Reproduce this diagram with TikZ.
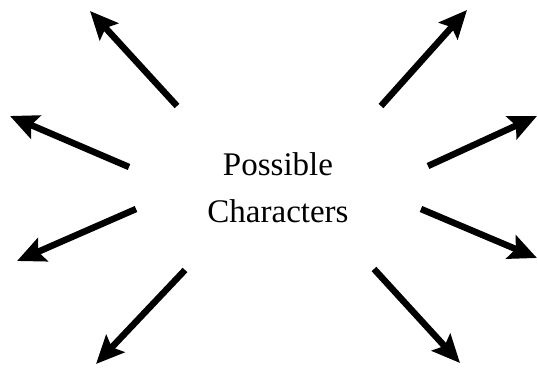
\documentclass[tikz,border=0pt]{standalone}
\usepackage{fontspec}
\setmainfont{Liberation Serif}
\usetikzlibrary{arrows.meta}
\tikzset{
  ray/.style={line width=6.5pt, -{Stealth[length=28pt,width=25pt,inset=5pt]}},
  label text/.style={font=\fontsize{33}{47}\selectfont, align=center, inner sep=0pt}
}
\begin{document}
\begin{tikzpicture}[x=1pt,y=-1pt]
\useasboundingbox (0,0) rectangle (538,367);
\node[label text] (c) at (278,188) {Possible\\Characters};
% tails
\coordinate (t1) at (177,106);
\coordinate (t2) at (381,106);
\coordinate (t3) at (129,167);
\coordinate (t4) at (428,166);
\coordinate (t5) at (136,209);
\coordinate (t6) at (421,209);
\coordinate (t7) at (185,270);
\coordinate (t8) at (374,269);
% tips
\coordinate (h1) at (90,11);
\coordinate (h2) at (467,10);
\coordinate (h3) at (10,116);
\coordinate (h4) at (537,116);
\coordinate (h5) at (17,261);
\coordinate (h6) at (537,258);
\coordinate (h7) at (96,364);
\coordinate (h8) at (460,363);
\foreach \i in {1,...,8} {\draw[ray] (t\i) -- (h\i);}
\end{tikzpicture}
\end{document}
